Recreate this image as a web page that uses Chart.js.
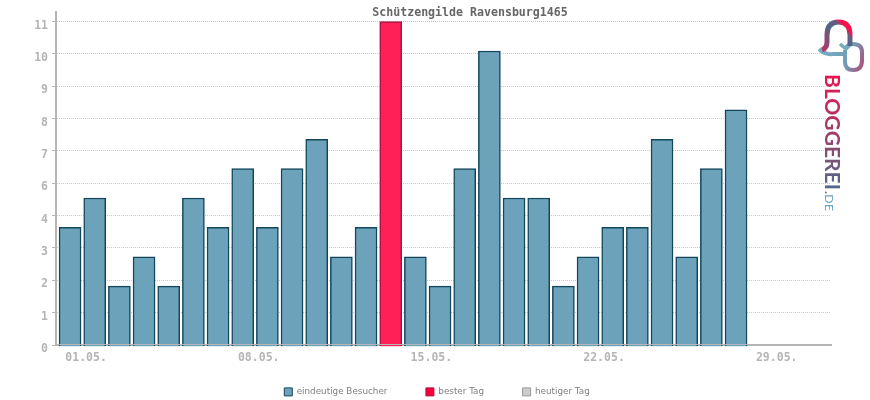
<!DOCTYPE html>
<html><head><meta charset="utf-8">
<style>html,body{margin:0;padding:0;background:#fff}#w{position:relative;width:870px;height:400px}canvas{position:absolute;left:0;top:0}svg{position:absolute;left:0;top:0}</style>
<script src="https://cdn.jsdelivr.net/npm/chart.js@4"></script></head><body>
<div id="w"><canvas id="c" width="870" height="400"></canvas>
<svg width="870" height="400" viewBox="0 0 870 400">
<defs>
<linearGradient id="tg" gradientUnits="userSpaceOnUse" x1="0" y1="0" x2="116" y2="0"><stop offset="0" stop-color="#ea1450"/><stop offset=".45" stop-color="#a83a62"/><stop offset="1" stop-color="#4f6a8e"/></linearGradient>
<linearGradient id="g1" gradientUnits="userSpaceOnUse" x1="826" y1="50" x2="852" y2="25"><stop offset="0" stop-color="#b03a66"/><stop offset=".5" stop-color="#4f6688"/><stop offset=".72" stop-color="#5f6085"/><stop offset=".85" stop-color="#ff1048"/><stop offset="1" stop-color="#ff1048"/></linearGradient>
<linearGradient id="g2" gradientUnits="userSpaceOnUse" x1="820" y1="50" x2="864" y2="68"><stop offset="0" stop-color="#78adc2"/><stop offset=".6" stop-color="#6f9fb8"/><stop offset="1" stop-color="#b04a78"/></linearGradient>
</defs>
<path d="M845 50 L845 62 Q845 70 853.500 70 Q862 70 862 60 L862 52 Q862 44 853 44 Q848 44 846 48" fill="none" stroke="url(#g2)" stroke-width="4"/>
<path d="M819 49 Q825 55 833 54 L846 54" fill="none" stroke="url(#g2)" stroke-width="4"/>
<path d="M840 44 L846 49 L850 45" fill="none" stroke="#74a9bf" stroke-width="3.500"/>
<path d="M822 50 Q827 48 827 42 L827 35 Q827 22 838.500 22 Q850 22 850 35 L850 46" fill="none" stroke="url(#g1)" stroke-width="5"/>
<text transform="translate(825,74) rotate(90)" font-family="Lato" font-weight="700" font-size="20" textLength="116" lengthAdjust="spacingAndGlyphs" fill="url(#tg)">BLOGGEREI</text>
<text transform="translate(825,191) rotate(90)" font-family="Lato" font-weight="400" font-size="11" textLength="20" lengthAdjust="spacingAndGlyphs"><tspan fill="#4f6f90" font-weight="700">.</tspan><tspan fill="#6fa5bd">DE</tspan></text>
</svg></div>
<script>
const categories = ["01.05.","02.05.","03.05.","04.05.","05.05.","06.05.","07.05.","08.05.","09.05.","10.05.","11.05.","12.05.","13.05.","14.05.","15.05.","16.05.","17.05.","18.05.","19.05.","20.05.","21.05.","22.05.","23.05.","24.05.","25.05.","26.05.","27.05.","28.05.","29.05.","30.05.","31.05."];
const visitors = [4,5,2,3,2,5,4,6,4,6,7,3,4,null,3,2,6,10,5,5,2,3,4,4,7,3,6,8,null,null,null];
const bestDay  = [null,null,null,null,null,null,null,null,null,null,null,null,null,11,null,null,null,null,null,null,null,null,null,null,null,null,null,null,null,null,null];
const today    = categories.map(()=>null);
const yTicks = [0,1.1,2.2,3.3,4.4,5.5,6.6,7.7,8.8,9.9,11];
const labeledDays = [1,8,15,22,29];
const title = "Schützengilde Ravensburg1465";
const GREY = "#b5b5b5", DARK = "#12465c";

const toPts = a => a.map((v,i)=>v===null?null:{x:i+1,y:v});
const ds = (label,data,bg,bd,lg,lb)=>({label,data:toPts(data).filter(Boolean),backgroundColor:bg,borderColor:bd,borderWidth:1.5,barThickness:22,base:-0.045,clip:false,legendFill:lg,legendStroke:lb,grouped:false});

const baseline = {id:"baseline",
 afterLayout(ch){
  const t=ch.titleBlock; t.left=109; t.right=831; t.top=6; t.bottom=20;
  const l=ch.legend; l.left=22; l.right=852; l.top=349; l.bottom=400;
 },
 afterDatasetsDraw(ch){const {x,y}=ch.scales,c=ch.ctx;c.save();c.strokeStyle=GREY;c.lineWidth=1;const p=Math.round(y.getPixelForValue(0))-0.5;c.beginPath();c.moveTo(x.left,p);c.lineTo(x.right,p);c.stroke();c.restore();}};

new Chart(document.getElementById("c"),{
 type:"bar",
 data:{datasets:[
  ds("eindeutige Besucher",visitors,"#6ca3bb",DARK,"#6ca3bb",DARK),
  ds("bester Tag",bestDay,"#ff2058","#a8123f","#f5003c","#b0103c"),
  ds("heutiger Tag",today,"#cccccc","#999999","#cccccc","#999999")
 ]},
 plugins:[baseline],
 options:{
  responsive:false,animation:false,
  layout:{padding:{left:0,right:39,top:-2,bottom:0}},
  plugins:{
   tooltip:{enabled:false},
   title:{display:true,text:title,color:"#666666",font:{family:"DejaVu Sans Mono",size:11.6,weight:"bold"},padding:0,position:"top",align:"center"},
   legend:{position:"bottom",maxHeight:25,labels:{color:"#808080",font:{family:"DejaVu Sans",size:8.8},boxWidth:8,boxHeight:8,padding:38.5,
     generateLabels(ch){return ch.data.datasets.map(d=>({text:d.label,fillStyle:d.legendFill,strokeStyle:d.legendStroke,lineWidth:1,fontColor:"#808080"}));}},
     onClick:null}
  },
  scales:{
   x:{type:"linear",offset:false,min:0.43,max:31.85,
     afterBuildTicks(s){s.ticks=categories.map((_,i)=>({value:i+1}));},
     afterFit(s){s.height=30;},
     grid:{display:false,offset:false,drawOnChartArea:false,drawTicks:true,tickLength:3,color:GREY},
     border:{display:true,color:GREY,width:2},
     ticks:{autoSkip:false,maxRotation:0,color:GREY,align:"center",padding:3.5,labelOffset:16,font:{family:"DejaVu Sans Mono",size:11.5,weight:"bold"},
       callback(v){const i=Math.round(v);return labeledDays.includes(i)?categories[i-1]:"";}}
   },
   y:{type:"linear",min:0,max:11.33,
     afterBuildTicks(s){s.ticks=yTicks.map(v=>({value:v}));},
     afterFit(s){s.width=56;},
     grid:{color:"#c8c8c8",drawTicks:true,tickLength:4,tickColor:GREY,tickBorderDash:[],lineWidth:1},
     border:{display:true,color:GREY,width:2,dash:[1,1]},
     ticks:{autoSkip:false,color:GREY,padding:4,labelOffset:4,font:{family:"DejaVu Sans Mono",size:11.5,weight:"bold"},callback:v=>Math.round(v)}
   }
  }
 }
});
</script></body></html>
